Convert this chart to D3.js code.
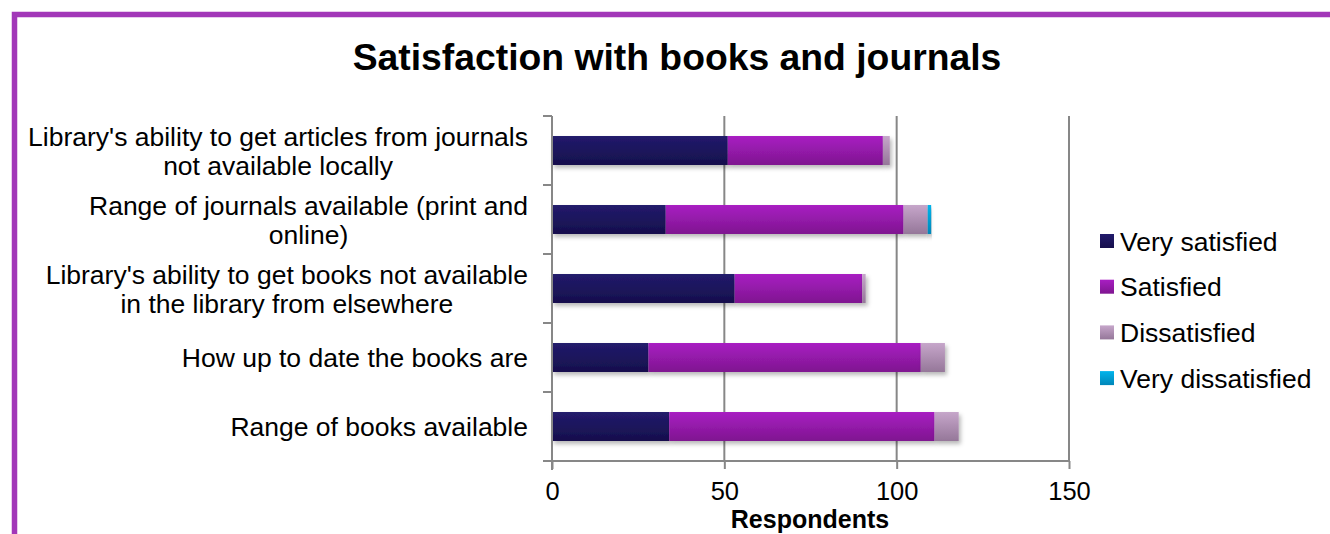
<!DOCTYPE html>
<html>
<head>
<meta charset="utf-8">
<script src="https://cdn.jsdelivr.net/npm/d3@7"></script>
<style>
  html, body { margin: 0; padding: 0; background: #fff; }
  svg { display: block; font-family: "Liberation Sans", Arial, sans-serif; }
</style>
</head>
<body>
<svg id="chart" width="1330" height="534"></svg>
<script>
// Survey items, top to bottom
const categories = [
  "Library's ability to get articles from journals|not available locally",
  "Range of journals available (print and|online)",
  "Library's ability to get books not available|in the library from elsewhere",
  "How up to date the books are",
  "Range of books available"
];
const seriesNames = ["Very satisfied", "Satisfied", "Dissatisfied", "Very dissatisfied"];
const verySatisfied    = [51, 33, 53, 28, 34];
const satisfied        = [45, 69, 37, 79, 77];
const dissatisfied     = [2, 7, 1, 7, 7];
const veryDissatisfied = [0, 1, 0, 0, 0];
const xTicks = [0, 50, 100, 150];

// top / bottom gradient stops per series
const seriesColors = [
  ["#221b6c", "#160f4c"],
  ["#a81ec2", "#7f1690"],
  ["#c6a6ca", "#957799"],
  ["#00b4ec", "#0086b8"]
];

const svg = d3.select("#chart");
const defs = svg.append("defs");

seriesColors.forEach((c, i) => {
  const g = defs.append("linearGradient")
    .attr("id", "grad" + i).attr("x1", 0).attr("y1", 0).attr("x2", 0).attr("y2", 1);
  g.append("stop").attr("offset", "0%").attr("stop-color", c[0]);
  g.append("stop").attr("offset", "100%").attr("stop-color", c[1]);
});

const shadow = defs.append("filter").attr("id", "shadow")
  .attr("x", "-5%").attr("y", "-30%").attr("width", "115%").attr("height", "180%");
shadow.append("feDropShadow")
  .attr("dx", 2).attr("dy", 3).attr("stdDeviation", 2.2)
  .attr("flood-color", "#000").attr("flood-opacity", 0.28);

// frame
svg.append("path")
  .attr("d", "M14.5,534 L14.5,14.5 L1330,14.5")
  .attr("fill", "none").attr("stroke", "#a237b8").attr("stroke-width", 5.5);

// title
svg.append("text")
  .attr("x", 677).attr("y", 70)
  .attr("text-anchor", "middle")
  .attr("font-size", 37.3).attr("font-weight", "bold")
  .attr("fill", "#000")
  .text("Satisfaction with books and journals");

const x = d3.scaleLinear().domain([0, 150]).range([552, 1069]);
const y = d3.scaleBand().domain(categories).range([116, 461])
  .paddingInner(0.58).paddingOuter(0.29);

const stackData = categories.map((c, i) => ({
  cat: c,
  [seriesNames[0]]: verySatisfied[i],
  [seriesNames[1]]: satisfied[i],
  [seriesNames[2]]: dissatisfied[i],
  [seriesNames[3]]: veryDissatisfied[i]
}));
const stacked = d3.stack().keys(seriesNames)(stackData);

const axisColor = "#878787";

// gridlines
const grid = svg.append("g");
grid.selectAll("line").data(xTicks.filter(t => t > 0)).join("line")
  .attr("x1", d => x(d)).attr("x2", d => x(d))
  .attr("y1", 116).attr("y2", 461)
  .attr("stroke", axisColor).attr("stroke-width", 2);

// bars
const barsG = svg.append("g");
stacked.forEach((layer, i) => {
  barsG.append("g")
    .attr("fill", `url(#grad${i})`)
    .attr("filter", "url(#shadow)")
    .selectAll("rect").data(layer.filter(d => d[1] - d[0] > 0)).join("rect")
    .attr("x", d => x(d[0]))
    .attr("width", d => x(d[1]) - x(d[0]))
    .attr("y", d => y(d.data.cat))
    .attr("height", y.bandwidth());
});

// x axis
const xAxis = svg.append("g").attr("transform", "translate(0,461)")
  .call(d3.axisBottom(x).tickValues(xTicks).tickSize(8).tickPadding(13).tickSizeOuter(0));
xAxis.select(".domain").attr("stroke", axisColor).attr("stroke-width", 2)
  .attr("d", `M${x(0) - 9},0H${x(150)}`);
xAxis.selectAll(".tick line").attr("stroke", axisColor).attr("stroke-width", 2);
xAxis.selectAll(".tick text").attr("font-size", 25.5).attr("fill", "#000")
  .attr("font-family", "Liberation Sans, Arial, sans-serif");

// y axis
const yEdges = categories.map(c => y(c) - y.step() * y.paddingInner() / 2);
yEdges.push(461);
const yAxis = svg.append("g");
yAxis.append("line")
  .attr("x1", x(0)).attr("x2", x(0)).attr("y1", 116).attr("y2", 470)
  .attr("stroke", axisColor).attr("stroke-width", 2);
yAxis.selectAll(".tk").data(yEdges).join("line").attr("class", "tk")
  .attr("x1", x(0) - 9).attr("x2", x(0))
  .attr("y1", d => d).attr("y2", d => d)
  .attr("stroke", axisColor).attr("stroke-width", 2);

// category labels: lines centred within a right-aligned block
const labelRight = 528;
categories.forEach(c => {
  const lines = c.split("|");
  const cy = y(c) + y.bandwidth() / 2;
  const g = svg.append("g");
  const texts = lines.map((ln, k) => g.append("text")
    .attr("font-size", 26.5).attr("fill", "#000")
    .attr("text-anchor", "middle")
    .attr("y", cy + (k - (lines.length - 1) / 2) * 29 + 9.5)
    .text(ln));
  const w = d3.max(texts, t => t.node().getComputedTextLength());
  texts.forEach(t => t.attr("x", labelRight - w / 2));
});

// axis title
svg.append("text")
  .attr("x", 810).attr("y", 528)
  .attr("text-anchor", "middle")
  .attr("font-size", 25).attr("font-weight", "bold").attr("fill", "#000")
  .text("Respondents");

// legend
const legend = svg.append("g");
seriesNames.forEach((s, i) => {
  const ly = 241 + i * 45.7;
  legend.append("rect")
    .attr("x", 1100).attr("y", ly - 7).attr("width", 14).attr("height", 14)
    .attr("fill", `url(#grad${i})`);
  legend.append("text")
    .attr("x", 1120).attr("y", ly + 9.5)
    .attr("font-size", 26.5).attr("fill", "#000")
    .text(s);
});
</script>
</body>
</html>
